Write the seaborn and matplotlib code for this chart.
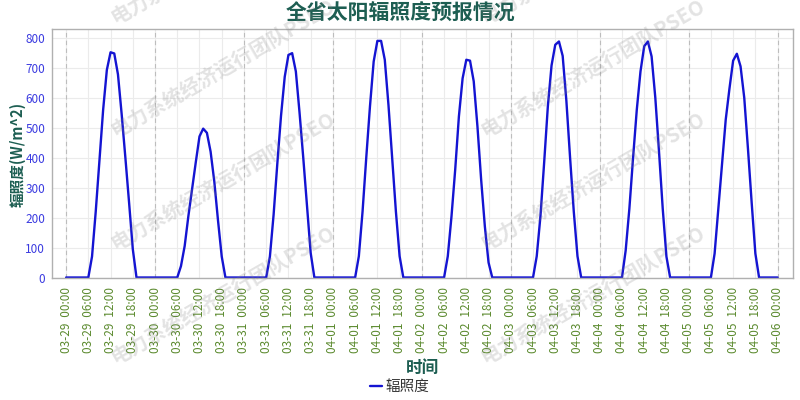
import numpy as np
import pandas as pd
import matplotlib
matplotlib.use("Agg")
import matplotlib.pyplot as plt
import matplotlib.dates as mdates
import seaborn as sns

sns.set_theme(style="white")
plt.rcParams["font.family"] = ["Noto Sans CJK SC", "DejaVu Sans"]
plt.rcParams["axes.unicode_minus"] = False

# hourly irradiance per day, 00:00 .. 23:00 (W/m^2)
day_0329 = [0, 0, 0, 0, 0, 0, 0, 70, 220, 390, 560, 693, 752, 748, 678, 545, 400, 250, 95, 0, 0, 0, 0, 0]
day_0330 = [0, 0, 0, 0, 0, 0, 0, 38, 105, 205, 295, 385, 471, 497, 483, 420, 320, 190, 70, 0, 0, 0, 0, 0]
day_0331 = [0, 0, 0, 0, 0, 0, 0, 70, 210, 380, 540, 670, 743, 749, 688, 550, 400, 240, 82, 0, 0, 0, 0, 0]
day_0401 = [0, 0, 0, 0, 0, 0, 0, 71, 220, 400, 571, 721, 790, 790, 727, 575, 400, 220, 71, 0, 0, 0, 0, 0]
day_0402 = [0, 0, 0, 0, 0, 0, 0, 71, 204, 360, 538, 665, 727, 724, 655, 505, 327, 171, 50, 0, 0, 0, 0, 0]
day_0403 = [0, 0, 0, 0, 0, 0, 0, 71, 204, 383, 571, 708, 777, 788, 740, 590, 400, 220, 71, 0, 0, 0, 0, 0]
day_0404 = [0, 0, 0, 0, 0, 0, 0, 90, 230, 400, 560, 688, 772, 788, 738, 600, 420, 230, 70, 0, 0, 0, 0, 0]
day_0405 = [0, 0, 0, 0, 0, 0, 0, 80, 230, 383, 527, 630, 724, 747, 705, 600, 430, 250, 80, 0, 0, 0, 0, 0]
day_0406 = [0]  # 04-06 00:00

values = (day_0329 + day_0330 + day_0331 + day_0401 + day_0402
          + day_0403 + day_0404 + day_0405 + day_0406)
times = pd.date_range("2025-03-29 00:00", periods=len(values), freq="h")
df = pd.DataFrame({"time": times, "辐照度": values})

TEAL = "#1d5e52"
WM_TEXT = "电力系统经济运行团队PSEO"
wm_x = [223, 593]
wm_y = [-46, 67, 180, 294]

fig = plt.figure(figsize=(8, 4), dpi=100)
ax = fig.add_axes([0.065, 0.304, 0.926, 0.623])

sns.lineplot(data=df, x="time", y="辐照度", color="#1414d2", lw=1.7, ax=ax, label="辐照度")

# axes ranges
ax.set_xlim(times[0] - pd.Timedelta(hours=3.8), times[-1] + pd.Timedelta(hours=4.1))
ax.set_ylim(-3, 829)
ax.set_yticks(np.arange(0, 801, 100))

ax.xaxis.set_major_locator(mdates.HourLocator(byhour=[0, 6, 12, 18]))
ax.xaxis.set_major_formatter(mdates.DateFormatter("%m-%d\u2002%H:%M"))
ax.tick_params(axis="x", rotation=90, labelsize=8.5, labelcolor="#5b8a2e", length=0, pad=6)
ax.tick_params(axis="y", labelsize=8.5, labelcolor="#3b3be0", length=0, pad=5)

ax.grid(True, color="#ebebeb", lw=0.8)
for t in times[times.hour == 0]:
    ax.axvline(t, color="#bdbdbd", lw=0.8, ls=(0, (4, 3)), zorder=1)

for s in ax.spines.values():
    s.set_color("#b0b0b0")
    s.set_linewidth(1)

ax.set_ylabel("")
ax.set_xlabel("时间", fontsize=12, fontweight="bold", color=TEAL)
ax.xaxis.set_label_coords(0.5, -0.325)
fig.text(18 / 800, 0.615, "辐照度(W/m^2)", rotation=90, ha="center", va="center",
         fontsize=10.5, fontweight="bold", color=TEAL)

fig.text(0.5, 0.968, "全省太阳辐照度预报情况", ha="center", va="center",
         fontsize=15, fontweight="bold", color=TEAL)

ax.legend(loc="center", bbox_to_anchor=(0.5, 0.032), bbox_transform=fig.transFigure,
          frameon=False, fontsize=10.5, handlelength=0.8, handletextpad=0.25)
for txt in ax.get_legend().get_texts():
    txt.set_color("#333333")

# watermark (partly outside the figure, as in the source)
for x in wm_x:
    for y in wm_y:
        fig.text(x / 800, 1 - y / 400, WM_TEXT, rotation=30, ha="center", va="center",
                 fontsize=14.5, fontweight="bold", color="#808080", alpha=0.22)

fig.savefig("out.png", dpi=100)
